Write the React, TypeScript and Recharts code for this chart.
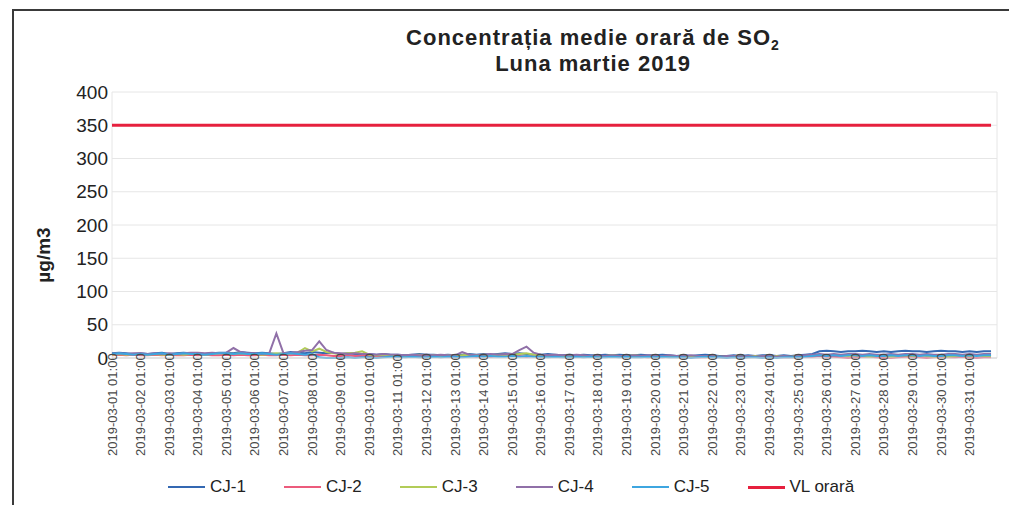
import { LineChart, Line, XAxis, YAxis, CartesianGrid } from "recharts"

// one reading every 6 hours, 2019-03-01 01:00 .. 2019-03-31 19:00
const hours = Array.from({ length: 124 }, (_, i) => i * 6)

const tickLabels = [
  "2019-03-01 01:00", "2019-03-02 01:00", "2019-03-03 01:00", "2019-03-04 01:00",
  "2019-03-05 01:00", "2019-03-06 01:00", "2019-03-07 01:00", "2019-03-08 01:00",
  "2019-03-09 01:00", "2019-03-10 01:00", "2019-03-11 01:00", "2019-03-12 01:00",
  "2019-03-13 01:00", "2019-03-14 01:00", "2019-03-15 01:00", "2019-03-16 01:00",
  "2019-03-17 01:00", "2019-03-18 01:00", "2019-03-19 01:00", "2019-03-20 01:00",
  "2019-03-21 01:00", "2019-03-22 01:00", "2019-03-23 01:00", "2019-03-24 01:00",
  "2019-03-25 01:00", "2019-03-26 01:00", "2019-03-27 01:00", "2019-03-28 01:00",
  "2019-03-29 01:00", "2019-03-30 01:00", "2019-03-31 01:00",
]
const tickHours = tickLabels.map((_, i) => i * 24)

const yTicks = [0, 50, 100, 150, 200, 250, 300, 350, 400]

const cj1 = [
  7, 8, 7, 6, 7, 6, 7, 8, 6, 7, 8, 7, 7, 6, 7, 8, 8, 7, 9, 8, 7, 8, 7, 6,
  7, 9, 8, 7, 9, 8, 7, 8, 6, 7, 6, 5, 6, 5, 6, 5, 5, 4, 5, 6, 5, 5, 4, 5,
  4, 5, 6, 5, 6, 5, 6, 7, 6, 7, 6, 5, 5, 6, 5, 4, 5, 4, 5, 4, 4, 5, 4, 5,
  4, 4, 5, 4, 4, 5, 4, 3, 4, 3, 4, 5, 4, 3, 3, 4, 3, 4, 3, 4, 4, 3, 4, 3,
  4, 5, 6, 10, 11, 10, 9, 10, 10, 11, 10, 9, 10, 9, 10, 11, 10, 10, 9, 10,
  11, 10, 10, 9, 10, 9, 10, 10,
]
const cj2 = [
  4, 5, 4, 5, 4, 4, 5, 4, 5, 4, 4, 5, 4, 5, 4, 4, 5, 4, 5, 4, 4, 5, 4, 4,
  5, 4, 5, 4, 4, 5, 4, 3, 3, 4, 3, 3, 3, 2, 3, 3, 2, 3, 2, 3, 3, 2, 3, 2,
  2, 3, 3, 2, 3, 2, 3, 3, 3, 3, 2, 3, 2, 3, 2, 2, 2, 2, 3, 2, 2, 3, 2, 2,
  2, 2, 2, 1, 2, 1, 2, 2, 1, 2, 1, 1, 2, 1, 1, 2, 1, 1, 2, 1, 1, 2, 1, 1,
  1, 2, 2, 3, 2, 2, 1, 0, 1, 2, 2, 1, 0, 0, 1, 2, 2, 1, 0, 1, 2, 1, 1, 2,
  1, 0, 1, 1,
]
const cj3 = [
  5, 6, 5, 6, 6, 5, 6, 5, 5, 6, 5, 6, 6, 5, 6, 7, 7, 6, 7, 6, 6, 5, 6, 7,
  6, 7, 8, 15, 10, 14, 9, 7, 6, 7, 8, 10, 5, 4, 5, 4, 4, 3, 4, 5, 4, 4, 3, 4,
  3, 4, 5, 4, 5, 4, 5, 5, 5, 6, 7, 5, 4, 3, 4, 3, 3, 4, 3, 3, 3, 3, 4, 3,
  3, 4, 3, 3, 3, 2, 3, 3, 2, 3, 3, 2, 3, 2, 2, 3, 2, 2, 3, 2, 2, 3, 2, 2,
  3, 3, 4, 5, 4, 5, 4, 3, 4, 3, 2, 3, 3, 2, 3, 4, 3, 4, 3, 2, 3, 2, 3, 4,
  3, 4, 3, 3,
]
const cj4 = [
  6, 7, 6, 7, 7, 6, 7, 6, 7, 6, 7, 8, 8, 7, 8, 7, 8, 15, 9, 7, 7, 6, 7, 37,
  7, 8, 9, 11, 12, 25, 12, 8, 7, 6, 7, 6, 6, 5, 6, 5, 5, 4, 5, 4, 5, 4, 5, 4,
  4, 9, 5, 4, 5, 6, 5, 6, 6, 12, 17, 8, 5, 4, 5, 4, 4, 5, 4, 3, 4, 3, 4, 3,
  3, 4, 3, 4, 3, 3, 4, 3, 3, 4, 3, 3, 3, 2, 3, 3, 2, 3, 2, 3, 3, 2, 3, 2,
  3, 4, 5, 6, 5, 6, 5, 6, 6, 5, 6, 5, 5, 6, 5, 6, 6, 5, 6, 5, 5, 6, 6, 5,
  6, 5, 6, 6,
]
const cj5 = [
  6, 7, 6, 5, 6, 5, 6, 7, 5, 6, 7, 6, 6, 5, 6, 7, 7, 6, 7, 6, 6, 7, 6, 5,
  6, 7, 6, 5, 6, 1, 0, 0, 0, 1, 0, 1, 1, 0, 1, 2, 2, 1, 2, 1, 1, 2, 1, 2,
  2, 1, 2, 3, 2, 3, 2, 2, 3, 2, 3, 2, 2, 1, 2, 1, 1, 2, 1, 2, 1, 1, 2, 1,
  2, 1, 1, 2, 1, 2, 1, 1, 1, 0, 1, 2, 1, 1, 0, 1, 0, 1, 1, 0, 1, 0, 1, 1,
  1, 2, 3, 4, 3, 4, 3, 4, 4, 3, 4, 3, 3, 4, 3, 4, 4, 3, 4, 3, 3, 4, 4, 3,
  4, 3, 4, 4,
]
const vlOrara = 350

const series = [
  { key: "cj1", name: "CJ-1", color: "#3468b2", width: 2, values: cj1 },
  { key: "cj2", name: "CJ-2", color: "#ec5b7c", width: 2, values: cj2 },
  { key: "cj3", name: "CJ-3", color: "#b2cc58", width: 2, values: cj3 },
  { key: "cj4", name: "CJ-4", color: "#9070a8", width: 2, values: cj4 },
  { key: "cj5", name: "CJ-5", color: "#3ea6e0", width: 2, values: cj5 },
  { key: "vl", name: "VL orară", color: "#e6203e", width: 3, values: hours.map(() => vlOrara) },
]

const data = hours.map((h, i) => {
  const row: Record<string, number> = { h }
  series.forEach((s) => (row[s.key] = s.values[i]))
  return row
})

function DateTick({ x, payload }: any) {
  const label = tickLabels[tickHours.indexOf(payload.value)]
  const by = 456
  return (
    <text
      x={x}
      y={by}
      transform={`rotate(-90 ${x} ${by})`}
      textAnchor="start"
      dominantBaseline="central"
      fontSize={13}
      fill="#4a4a4a"
    >
      {label}
    </text>
  )
}

export default function App() {
  return (
    <div
      style={{
        position: "absolute",
        left: 0,
        top: 0,
        width: 1009,
        height: 505,
        overflow: "hidden",
        background: "#fff",
        fontFamily: "'Liberation Sans', Arial, sans-serif",
        color: "#222",
      }}
    >
      <div
        style={{
          position: "absolute",
          left: 12,
          top: 9,
          width: 1100,
          height: 600,
          borderTop: "2px solid #3a3a3a",
          borderLeft: "2px solid #3a3a3a",
        }}
      />
      <div
        style={{
          position: "absolute",
          left: 293,
          top: 25,
          width: 600,
          textAlign: "center",
          fontWeight: "bold",
          fontSize: 22,
          letterSpacing: 1,
          lineHeight: "26px",
        }}
      >
        <div>
          Concentrația medie orară de SO<sub style={{ fontSize: 14, lineHeight: 0 }}>2</sub>
        </div>
        <div>Luna martie 2019</div>
      </div>
      <LineChart
        width={1009}
        height={505}
        data={data}
        margin={{ top: 92, right: 12, bottom: 0, left: 0 }}
        style={{ position: "absolute", left: 0, top: 0 }}
      >
        <CartesianGrid
          stroke="#e6e6e6"
          verticalCoordinatesGenerator={({ offset }: any) => [offset.left, offset.left + offset.width]}
        />
        <XAxis
          dataKey="h"
          type="number"
          domain={[0, 743]}
          ticks={tickHours}
          interval={0}
          height={147}
          tick={<DateTick />}
          tickLine={false}
          axisLine={{ stroke: "#d4d4d4" }}
        />
        <YAxis
          domain={[0, 400]}
          ticks={yTicks}
          width={112}
          tickLine={false}
          tickSize={0}
          axisLine={false}
          tickMargin={4}
          tick={{ fontSize: 19, fill: "#222" }}
          label={{
            content: () => (
              <text
                x={43}
                y={255}
                transform="rotate(-90 43 255)"
                textAnchor="middle"
                dominantBaseline="central"
                fontWeight="bold"
                fontSize={19}
                fill="#222"
              >
                µg/m3
              </text>
            ),
          }}
        />
        {series.map((s) => (
          <Line
            key={s.key}
            type="linear"
            dataKey={s.key}
            name={s.name}
            stroke={s.color}
            strokeWidth={s.width}
            dot={false}
            isAnimationActive={false}
          />
        ))}
      </LineChart>
      <div
        style={{
          position: "absolute",
          left: 168,
          top: 477,
          display: "flex",
          gap: 38,
          fontSize: 17,
          lineHeight: "20px",
        }}
      >
        {series.map((s) => (
          <div key={s.key} style={{ display: "flex", alignItems: "center", gap: 5 }}>
            <span style={{ display: "inline-block", width: 37, height: s.width > 2 ? 3 : 2, background: s.color }} />
            <span>{s.name}</span>
          </div>
        ))}
      </div>
    </div>
  )
}
